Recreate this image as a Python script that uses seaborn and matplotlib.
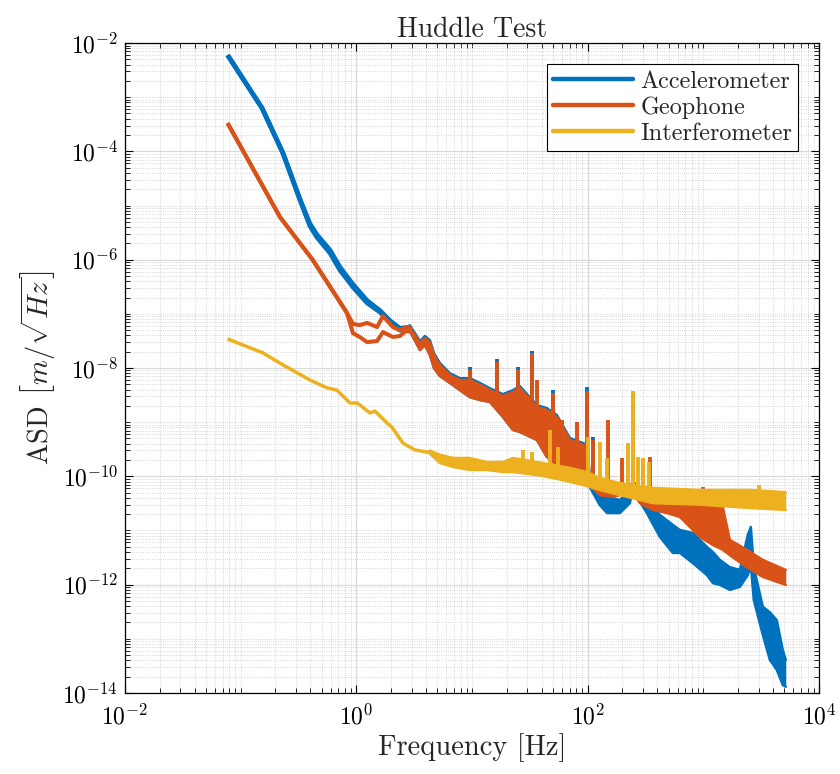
import numpy as np
import matplotlib
matplotlib.use("Agg")
import matplotlib.pyplot as plt
import seaborn as sns
from matplotlib.lines import Line2D
from matplotlib.ticker import FixedLocator, FuncFormatter, NullFormatter

# ---------------- data ----------------
# Low-frequency part: two sensors per instrument drawn as separate lines
acc_f = [0.077, 0.153, 0.232, 0.326, 0.397, 0.456, 0.592, 0.721, 0.935, 1.24, 1.60, 1.95, 2.38, 2.90]
acc_1 = [6.0e-3, 6.3e-4, 9.3e-5, 1.26e-5, 4.2e-6, 2.6e-6, 1.33e-6, 6.45e-7, 3.13e-7, 1.59e-7, 1.08e-7, 7.0e-8, 5.0e-8, 4.8e-8]
acc_2 = [6.0e-3, 6.3e-4, 9.3e-5, 1.3e-5, 4.6e-6, 2.9e-6, 1.5e-6, 7.3e-7, 3.5e-7, 1.75e-7, 1.15e-7, 7.5e-8, 5.4e-8, 5.7e-8]

geo_f = [0.077, 0.219, 0.42, 0.83, 0.935, 1.07, 1.24, 1.51, 1.70, 2.07, 2.38, 2.74, 2.90]
geo_1 = [3.33e-4, 6.1e-6, 9.9e-7, 1.04e-7, 6.5e-8, 6.2e-8, 6.8e-8, 5.7e-8, 9.1e-8, 5.7e-8, 5.0e-8, 5.7e-8, 5.7e-8]
geo_2 = [3.33e-4, 6.1e-6, 9.9e-7, 1.04e-7, 4.4e-8, 3.74e-8, 3.0e-8, 3.15e-8, 4.6e-8, 3.74e-8, 3.9e-8, 5.0e-8, 4.8e-8]

int_f = [0.077, 0.156, 0.232, 0.397, 0.557, 0.679, 0.881, 1.02, 1.31, 1.45, 1.84, 2.03, 2.53, 3.21, 4.07, 4.33]
int_v = [3.44e-8, 1.9e-8, 1.14e-8, 6.0e-9, 4.3e-9, 3.9e-9, 2.26e-9, 2.26e-9, 1.48e-9, 1.6e-9, 9.7e-10, 8.1e-10, 4.1e-10, 3.07e-10, 2.8e-10, 2.8e-10]

# Shared (accelerometer & geophone) noisy band, 2.9 Hz - 100 Hz
mid_f  = [2.90, 3.55, 3.92, 4.33, 4.69, 5.28, 6.44, 7.86, 9.59, 11.7, 14.3, 18.5, 22.6, 25.9, 36.4, 44.4, 54.2, 70.2, 91.0, 100.0]
mid_hi = [5.7e-8, 2.9e-8, 3.6e-8, 3.0e-8, 1.74e-8, 1.14e-8, 7.4e-9, 6.0e-9, 6.0e-9, 4.9e-9, 3.9e-9, 3.04e-9, 3.6e-9, 4.3e-9, 1.9e-9, 1.68e-9, 1.25e-9, 4.7e-10, 3.8e-10, 3.5e-10]
mid_lo = [4.8e-8, 2.15e-8, 2.66e-8, 1.74e-8, 1.0e-8, 7.1e-9, 5.3e-9, 3.9e-9, 2.9e-9, 2.57e-9, 2.36e-9, 1.25e-9, 7.2e-10, 6.6e-10, 4.7e-10, 2.28e-10, 1.62e-10, 1.31e-10, 1.2e-10, 9.3e-11]

# Accelerometer band above 100 Hz
acc_hf_f  = [104, 127, 147, 190, 232, 246, 266, 325, 421, 545, 627, 811, 1072, 1208, 1390, 1694, 2070, 2425, 2575, 2731, 3267, 3758, 4317, 4864, 5160]
acc_hf_hi = [9.3e-11, 5.6e-11, 4.2e-11, 3.66e-11, 5.6e-11, 8.6e-11, 6.1e-11, 3.66e-11, 1.94e-11, 1.27e-11, 1.02e-11, 9.0e-12, 5.0e-12, 4.0e-12, 2.86e-12, 2.1e-12, 1.87e-12, 8.3e-12, 1.16e-11, 2.1e-12, 3.9e-13, 3.1e-13, 2.2e-13, 6.2e-14, 4.1e-14]
acc_hf_lo = [6.4e-11, 2.96e-11, 2.1e-11, 2.1e-11, 3.2e-11, 6.4e-11, 4.2e-11, 2.1e-11, 7.6e-12, 3.85e-12, 3.85e-12, 2.5e-12, 1.51e-12, 1.07e-12, 9.9e-13, 8.0e-13, 9.1e-13, 1.51e-12, 2.3e-12, 5.2e-13, 1.18e-13, 4.1e-14, 2.66e-14, 1.4e-14, 1.3e-14]

# Geophone band above 100 Hz
geo_hf_f  = [104, 127, 165, 246, 283, 366, 484, 627, 933, 1208, 1475, 1694, 2377, 3267, 5160]
geo_hf_hi = [9.3e-11, 6.9e-11, 6.1e-11, 6.9e-11, 4.5e-11, 3.66e-11, 3.0e-11, 3.0e-11, 3.66e-11, 3.2e-11, 2.7e-11, 6.7e-12, 4.4e-12, 2.86e-12, 1.87e-12]
geo_hf_lo = [6.9e-11, 4.5e-11, 4.2e-11, 5.1e-11, 3.2e-11, 2.4e-11, 2.1e-11, 1.78e-11, 7.6e-12, 5.4e-12, 4.4e-12, 3.5e-12, 2.1e-12, 1.39e-12, 9.9e-13]

# Interferometer band above 4 Hz
int_hf_f  = [4.33, 5.28, 6.84, 9.59, 13.4, 18.5, 22.6, 36.4, 50.0, 70.2, 98.5, 127, 190, 366, 933, 2523, 5160]
int_hf_hi = [3.0e-10, 2.5e-10, 2.18e-10, 2.18e-10, 1.84e-10, 1.84e-10, 2.18e-10, 1.84e-10, 1.62e-10, 1.43e-10, 1.2e-10, 9.3e-11, 7.5e-11, 6.1e-11, 5.6e-11, 5.6e-11, 5.1e-11]
int_hf_lo = [2.6e-10, 1.76e-10, 1.49e-10, 1.31e-10, 1.31e-10, 1.2e-10, 1.2e-10, 1.06e-10, 9.3e-11, 7.9e-11, 6.6e-11, 5.6e-11, 4.5e-11, 3.2e-11, 3.0e-11, 2.6e-11, 2.4e-11]

# Narrow peaks: frequency, base level, peak level
geo_pk_f    = [9.59, 16.4, 24.9, 32.7, 36.4, 49.8, 59.8, 80.7, 98.8, 111, 150, 200, 247, 300, 345, 1000]
geo_pk_base = [6.0e-9, 3.5e-9, 3.6e-9, 2.6e-9, 1.68e-9, 1.33e-9, 4.7e-10, 3.8e-10, 3.07e-10, 5.6e-11, 5.6e-11, 5.6e-11, 5.6e-11, 4.5e-11, 3.66e-11, 3.3e-11]
geo_pk_top  = [9.2e-9, 1.29e-8, 9.2e-9, 1.9e-8, 6.0e-9, 3.5e-9, 1.1e-9, 1.0e-9, 3.8e-9, 4.7e-10, 1.1e-9, 2.18e-10, 3.6e-9, 2.18e-10, 2.28e-10, 6.3e-11]
acc_pk_f    = [9.59, 16.4, 24.9, 32.7, 49.8, 98.8, 111]
acc_pk_base = [6.0e-9, 3.5e-9, 3.6e-9, 2.6e-9, 1.33e-9, 3.07e-10, 5.6e-11]
acc_pk_top  = [1.05e-8, 1.45e-8, 1.05e-8, 2.1e-8, 4.0e-9, 4.4e-9, 5.4e-10]
int_pk_f    = [27.5, 33.0, 47.1, 55.3, 100, 127, 146, 222, 247, 272, 300, 338, 3020]
int_pk_base = [1.84e-10, 1.84e-10, 1.62e-10, 1.62e-10, 1.1e-10, 9.3e-11, 8.5e-11, 7.0e-11, 6.8e-11, 6.5e-11, 6.3e-11, 6.1e-11, 5.3e-11]
int_pk_top  = [3.07e-10, 2.8e-10, 7.2e-10, 3.5e-10, 5.3e-10, 4.3e-10, 2.18e-10, 4.1e-10, 3.77e-9, 2.28e-10, 2.18e-10, 1.84e-10, 6.9e-11]

labels = ["Accelerometer", "Geophone", "Interferometer"]
colors = ["#0072BD", "#D95319", "#EDB120"]
x_ticks = [1e-2, 1e0, 1e2, 1e4]
y_ticks = [1e-14, 1e-12, 1e-10, 1e-8, 1e-6, 1e-4, 1e-2]

# ---------------- style ----------------
sns.set_style("ticks")
plt.rcParams.update({
    "font.family": "serif",
    "font.serif": ["cmr10", "DejaVu Serif"],
    "mathtext.fontset": "cm",
    "axes.formatter.use_mathtext": True,
    "axes.unicode_minus": False,
})

fig = plt.figure(figsize=(8.4, 7.74), dpi=100)
ax = fig.add_axes([0.1488, 0.1047, 0.8262, 0.8397])
ax.set_xscale("log")
ax.set_yscale("log")

def draw(ax, color, lw, z, lf, l1, l2, bf, blo, bhi, pf, pb, pt):
    sns.lineplot(x=lf, y=l1, ax=ax, color=color, lw=lw, zorder=z, estimator=None,
                 solid_capstyle="butt", legend=False)
    if l2 is not None:
        sns.lineplot(x=lf, y=l2, ax=ax, color=color, lw=lw, zorder=z, estimator=None,
                     solid_capstyle="butt", legend=False)
    ax.fill_between(bf, blo, bhi, color=color, lw=0, zorder=z)
    sns.lineplot(x=bf, y=bhi, ax=ax, color=color, lw=1.8, zorder=z, estimator=None, legend=False)
    sns.lineplot(x=bf, y=blo, ax=ax, color=color, lw=1.8, zorder=z, estimator=None, legend=False)
    ax.vlines(pf, pb, pt, color=color, lw=2.8, zorder=z)

draw(ax, colors[0], 3.4, 2, acc_f, acc_1, acc_2, mid_f + acc_hf_f, mid_lo + acc_hf_lo,
     [v * 1.08 for v in mid_hi] + acc_hf_hi, acc_pk_f, acc_pk_base, acc_pk_top)
draw(ax, colors[1], 2.9, 3, geo_f, geo_1, geo_2, mid_f + geo_hf_f, mid_lo + geo_hf_lo,
     mid_hi + geo_hf_hi, geo_pk_f, geo_pk_base, geo_pk_top)
draw(ax, colors[2], 2.5, 4, int_f, int_v, None, int_hf_f, int_hf_lo, int_hf_hi,
     int_pk_f, int_pk_base, int_pk_top)

ax.set_xlim(1e-2, 1e4)
ax.set_ylim(1e-14, 1e-2)

fmt = FuncFormatter(lambda v, p: r"$10^{%d}$" % int(round(np.log10(v))))
x_minor = [m * 10.0 ** e for e in range(-2, 4) for m in range(1, 10) if not (m == 1 and e % 2 == 0)]
y_minor = [m * 10.0 ** e for e in range(-14, -2) for m in range(1, 10) if not (m == 1 and e % 2 == 0)]
ax.xaxis.set_major_locator(FixedLocator(x_ticks))
ax.yaxis.set_major_locator(FixedLocator(y_ticks))
ax.xaxis.set_minor_locator(FixedLocator(x_minor))
ax.yaxis.set_minor_locator(FixedLocator(y_minor))
for axis in (ax.xaxis, ax.yaxis):
    axis.set_major_formatter(fmt)
    axis.set_minor_formatter(NullFormatter())

ax.grid(True, which="major", color="#d9d9d9", lw=0.9, ls="-", zorder=0)
ax.grid(True, which="minor", color="#cbcbcb", lw=0.6, ls=":", zorder=0)
ax.set_axisbelow(True)
ax.tick_params(which="both", direction="in", top=True, right=True, colors="black",
               labelsize=17)
ax.tick_params(axis="x", which="major", pad=8)
ax.tick_params(axis="y", which="major", pad=5)
ax.tick_params(which="major", length=6, width=0.8)
ax.tick_params(which="minor", length=3.5, width=0.6)
for s in ax.spines.values():
    s.set_color("black")
    s.set_linewidth(0.9)

ax.set_xlabel("Frequency [Hz]", fontsize=20.5, labelpad=3)
ax.set_ylabel(r"ASD $\left[m/\sqrt{Hz}\right]$", fontsize=20.5, labelpad=3)
ax.set_title("Huddle Test", fontsize=20, pad=4)

handles = [Line2D([], [], color=c, lw=3.2) for c in colors]
leg = ax.legend(handles, labels, loc="upper right", fontsize=17.4, frameon=True,
                fancybox=False, framealpha=1, edgecolor="black", handlelength=3.3,
                borderpad=0.25, labelspacing=0.15, handletextpad=0.3, borderaxespad=0,
                bbox_to_anchor=(0.97, 0.967))
leg.get_frame().set_linewidth(0.8)

fig.savefig("out.png", dpi=100)
